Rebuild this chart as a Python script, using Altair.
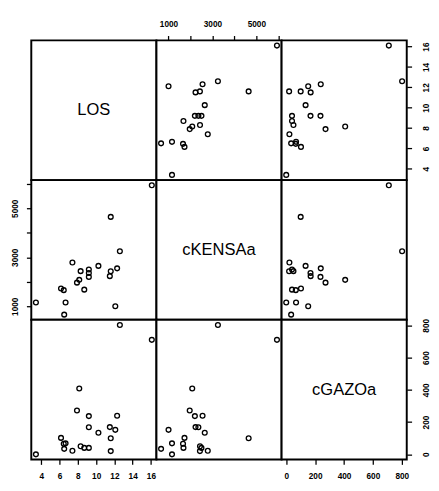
import altair as alt
import pandas as pd

# Data read from the scatterplot matrix
LOS = [16.1, 12.6, 12.3, 12.1, 11.6, 11.6, 11.5, 10.25, 9.2, 9.2, 9.2,
       8.7, 8.3, 8.15, 7.9, 7.4, 6.65, 6.5, 6.45, 6.15, 3.4]
cKENSAa = [5940, 3250, 2550, 1000, 4650, 2430, 2230, 2650, 2200, 2360, 2500,
           1680, 2434, 2080, 1965, 2788, 1158, 660, 1660, 1727, 1158]
cGAZOa = [710, 802, 239, 152, 100, 20, 169, 134, 237, 168, 40,
          40, 50, 408, 272, 22, 68, 34, 66, 102, 0]

names = ["LOS", "cKENSAa", "cGAZOa"]
ticks = {
    "LOS": [4, 6, 8, 10, 12, 14, 16],
    "cKENSAa": [1000, 2000, 3000, 4000, 5000, 6000],
    "cGAZOa": [0, 200, 400, 600, 800],
}
label_expr = {
    "LOS": "datum.label",
    "cKENSAa": "datum.value % 2000 == 0 ? '' : format(datum.value, 'd')",
    "cGAZOa": "format(datum.value, 'd')",
}

df = pd.DataFrame({"LOS": LOS, "cKENSAa": cKENSAa, "cGAZOa": cGAZOa})


def rng(v):
    lo, hi = min(v), max(v)
    r = hi - lo
    return [lo - 0.04 * r, hi + 0.04 * r]


domains = {n: rng(df[n].tolist()) for n in names}

W, H = 129, 144
FONT = "Liberation Sans"


def make_axis(var, orient):
    horiz = orient in ("top", "bottom")
    return alt.Axis(
        orient=orient, values=ticks[var], labelExpr=label_expr[var],
        grid=False, domain=False, tickColor="black", tickWidth=1.3,
        tickSize=5, labelColor="black", labelFont=FONT, labelFontSize=8.5,
        labelFontWeight="bold", title=None,
        labelAngle=0 if horiz else 270,
        labelPadding=12 if horiz else (7 if orient == "left" else 10),
        labelAlign="center",
        labelBaseline="middle" if horiz else ("bottom" if orient == "left" else "top"),
        labelOverlap=False, labelFlush=False,
    )


def x_axis(row, col):
    if row == 0 and col == 1:
        return make_axis(names[col], "top")
    if row == 2 and col in (0, 2):
        return make_axis(names[col], "bottom")
    return None


def y_axis(row, col):
    if row in (0, 2) and col == 2:
        return make_axis(names[row], "right")
    if row == 1 and col == 0:
        return make_axis(names[row], "left")
    return None


def panel(row, col):
    xv, yv = names[col], names[row]
    xa, ya = x_axis(row, col), y_axis(row, col)
    xs = alt.Scale(domain=domains[xv], nice=False, zero=False)
    ys = alt.Scale(domain=domains[yv], nice=False, zero=False)
    if row == col:
        cx = sum(domains[xv]) / 2
        lab = pd.DataFrame({"label": [xv], "cx": [cx], "cy": [cx]})
        xenc = alt.X("cx:Q", scale=xs, axis=xa) if xa else alt.X("cx:Q", scale=xs, axis=None)
        yenc = alt.Y("cy:Q", scale=ys, axis=ya) if ya else alt.Y("cy:Q", scale=ys, axis=None)
        ch = alt.Chart(lab).mark_text(
            font=FONT, fontSize=17, color="black", align="center", baseline="middle"
        ).encode(x=xenc, y=yenc, text="label:N")
    else:
        xenc = alt.X(f"{xv}:Q", scale=xs, axis=xa) if xa else alt.X(f"{xv}:Q", scale=xs, axis=None)
        yenc = alt.Y(f"{yv}:Q", scale=ys, axis=ya) if ya else alt.Y(f"{yv}:Q", scale=ys, axis=None)
        ch = alt.Chart(df).mark_point(
            shape="circle", filled=False, size=24, strokeWidth=1.4, color="black", opacity=1
        ).encode(x=xenc, y=yenc)
    return ch.properties(width=W, height=H)


cells = [panel(r, c) for r in range(3) for c in range(3)]

chart = alt.concat(*cells, columns=3, spacing=0, bounds="flush").properties(
    padding={"left": 2, "top": 4, "right": 0, "bottom": 0},
    background="white",
).configure_view(
    stroke="black", strokeWidth=2, fill="white"
)

chart.save("out.html", embed_options={"renderer": "svg", "actions": False})
